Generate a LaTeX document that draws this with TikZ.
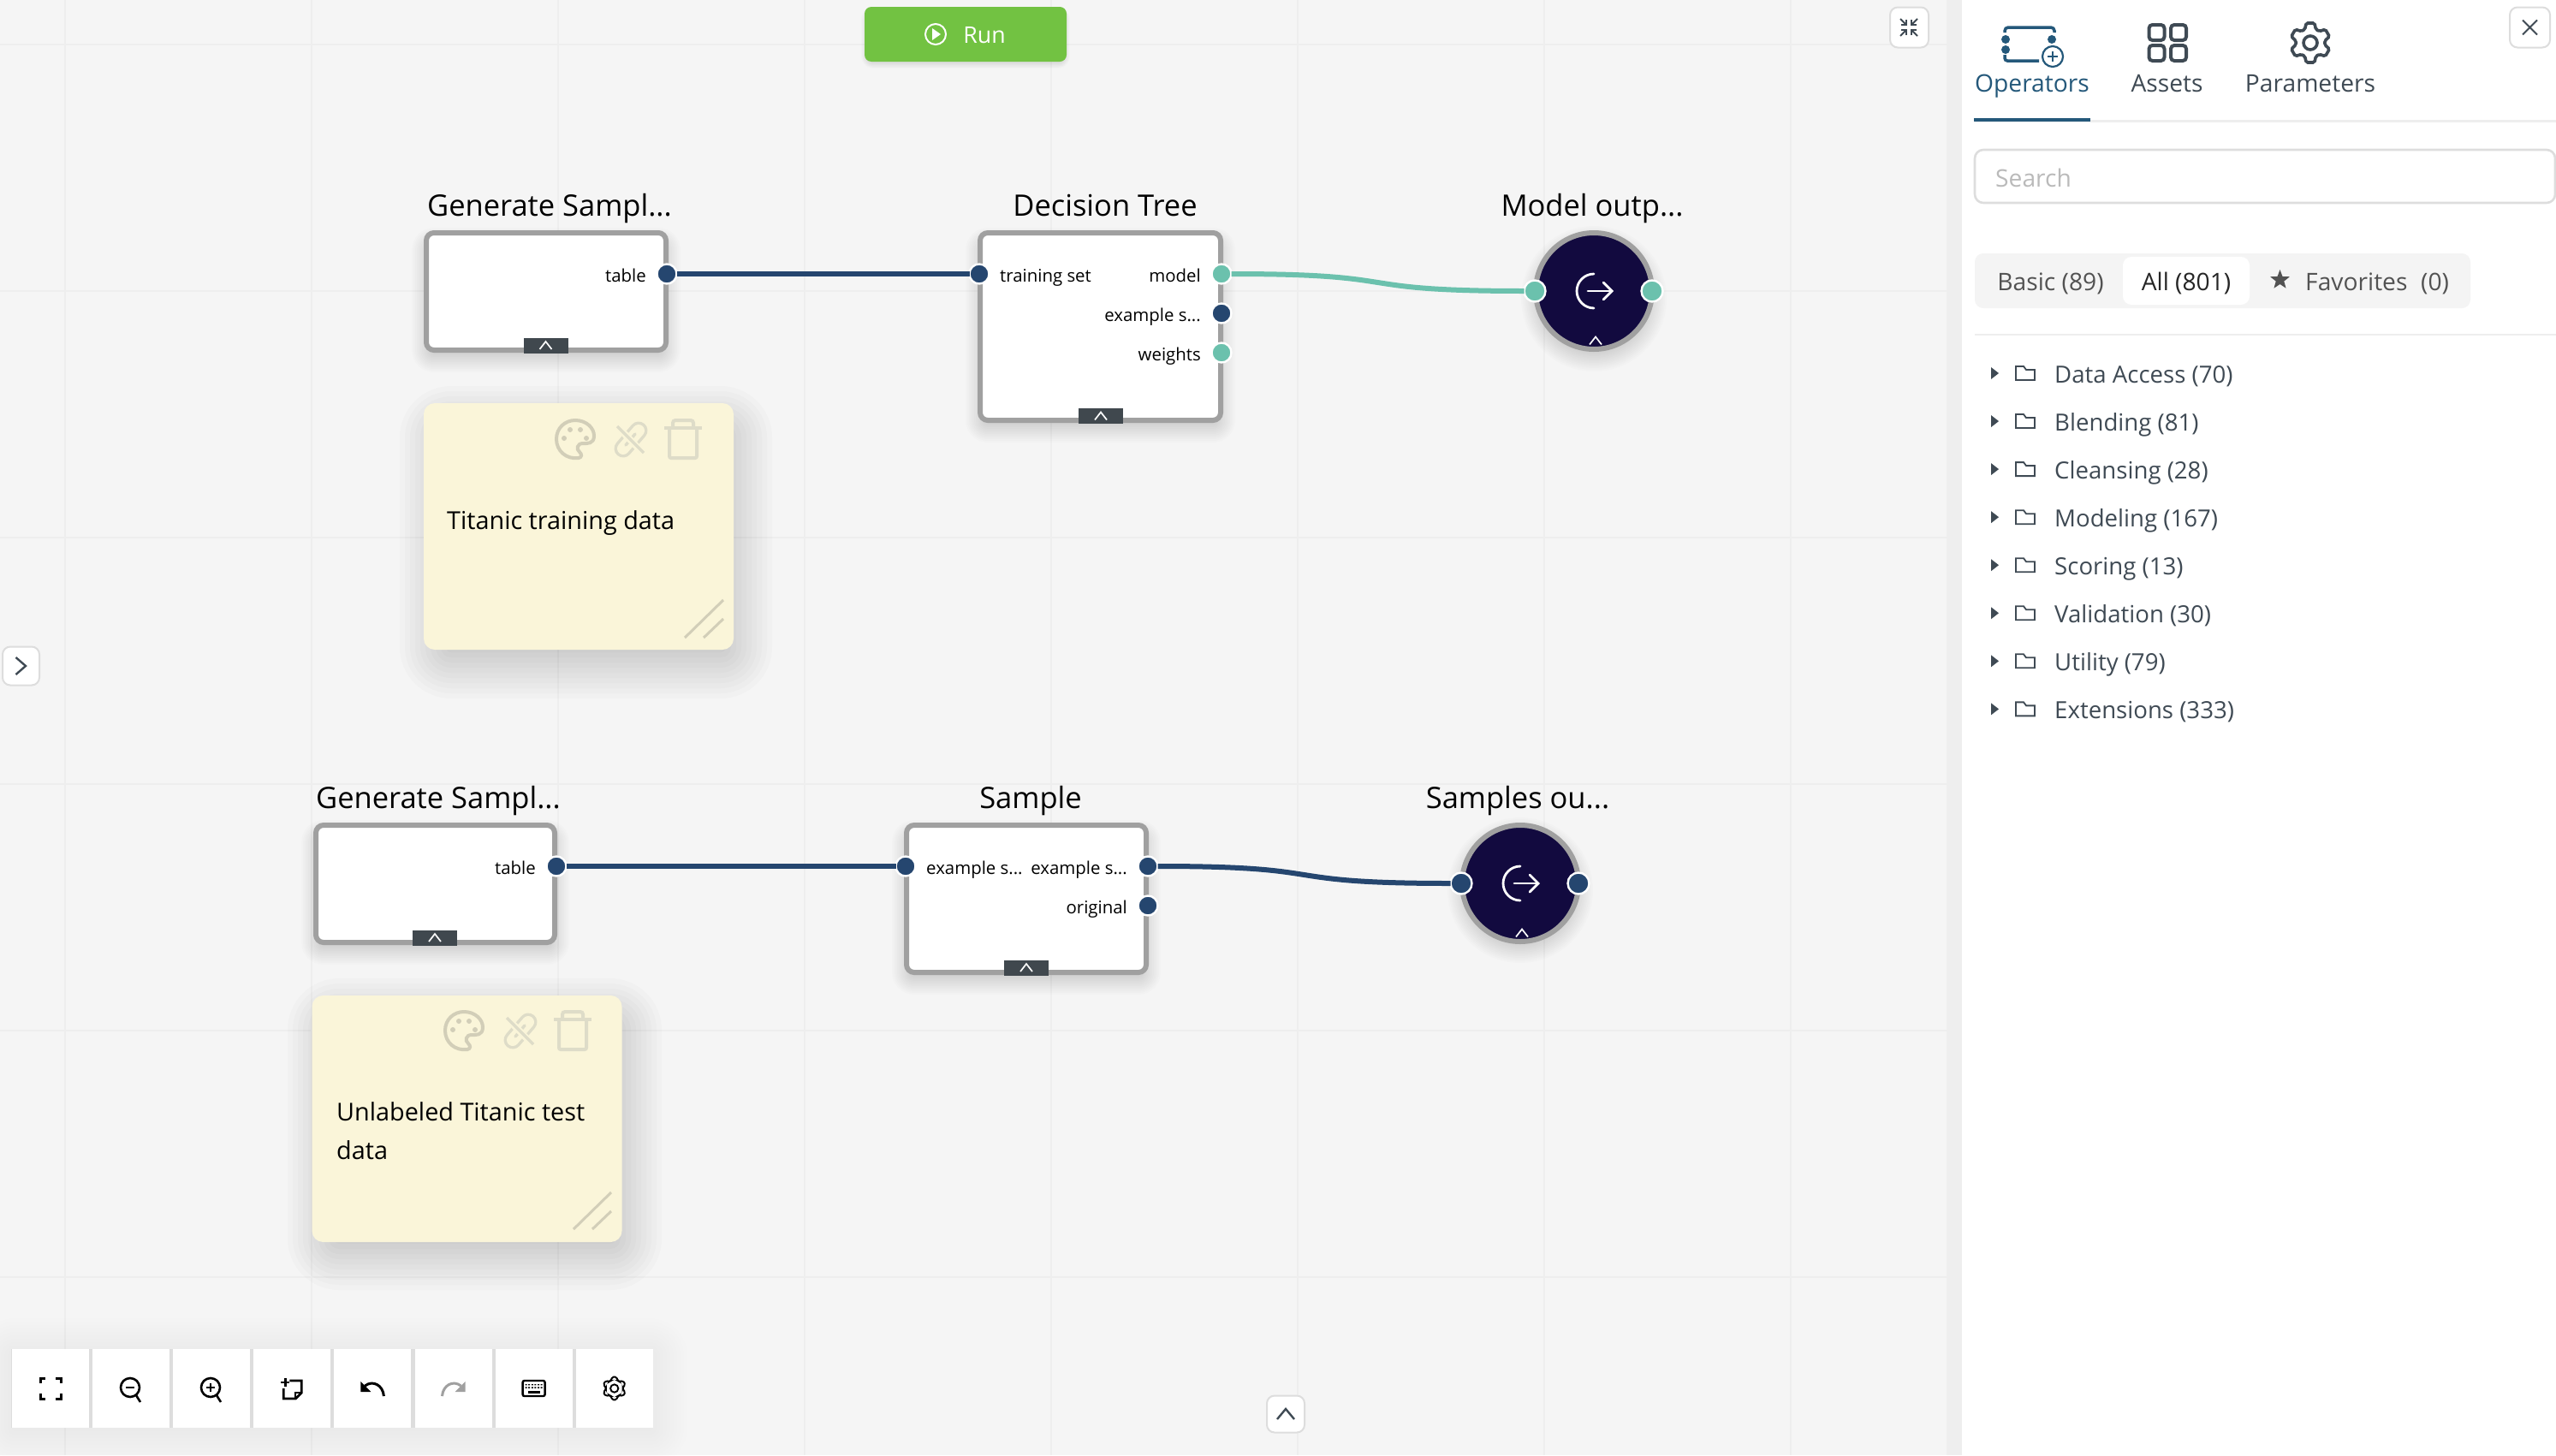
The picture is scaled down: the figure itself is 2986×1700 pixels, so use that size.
\documentclass[tikz,border=0pt]{standalone}
\usepackage{fontspec}
\setmainfont{Open Sans}
\usetikzlibrary{shapes.geometric,positioning,arrows.meta,calc}

\definecolor{canvasbg}{HTML}{F5F5F5}
\definecolor{gridline}{HTML}{EEEEEE}
\definecolor{navyport}{HTML}{25466F}
\definecolor{tealport}{HTML}{6BC1AD}
\definecolor{boxedge}{HTML}{A0A0A0}
\definecolor{tabdark}{HTML}{40484E}
\definecolor{exitfill}{HTML}{120A3F}
\definecolor{notefill}{HTML}{FAF5D9}
\definecolor{noteicon}{HTML}{D2CEB8}
\definecolor{noteiconlt}{HTML}{DEDCC8}
\definecolor{slate}{HTML}{3F4A54}
\definecolor{activeblue}{HTML}{24587A}
\definecolor{paneledge}{HTML}{EEEEEE}
\definecolor{softedge}{HTML}{DDDDDD}
\definecolor{rungreen}{HTML}{72C242}

\newcommand{\softshade}[8]{%
  \foreach \g in {0,...,11}{
    \pgfmathsetmacro\ee{#5+(#6-#5)*\g/11}
    \pgfmathsetmacro\rr{max(0.1,#8+\ee)}
    \fill[black,opacity=#7,rounded corners=\rr pt] (#1-\ee,#2-\ee) rectangle (#3+\ee,#4+\ee);
  }}

\tikzset{
  caretmark/.pic={\draw[white,line width=1.7pt] (-7,4.5) -- (0,-4.5) -- (7,4.5);},
  exiticon/.pic={
    \draw[white,line width=2.8pt,line cap=round] (0,-20) arc[start angle=270,end angle=90,radius=20];
    \draw[white,line width=2.8pt,line cap=round] (-7,0) -- (20,0);
    \draw[white,line width=2.8pt,line cap=round] (11,-10) -- (21,0) -- (11,10);},
  paletteicon/.pic={
    \draw[noteicon,line width=4pt] (4,22) .. controls (-10,24) and (-22,14) .. (-22,0)
      .. controls (-22,-13) and (-12,-22) .. (0,-22) .. controls (13,-22) and (22,-13) .. (22,-4)
      .. controls (22,6) and (14,5) .. (9,5) .. controls (2,5) and (1,12) .. (5,15)
      .. controls (8,18) and (8,21) .. (4,22) -- cycle;
    \foreach \dx/\dy in {-13/-1,-6/-11,6/-11,13/-1}{\fill[noteicon] (\dx,\dy) circle (3);}},
  clipicon/.pic={
    \draw[noteiconlt,line width=21pt,line cap=round] (-8,11) -- (10,-10);
    \draw[notefill,line width=14pt,line cap=round] (-8,11) -- (10,-10);
    \draw[noteiconlt,line width=3.5pt,line cap=round] (-5,7) -- (6,-6);
    \draw[notefill,line width=8pt] (-18,-18) -- (18,19);
    \draw[noteiconlt,line width=3.5pt] (-15,-15) -- (16,16);},
  trashicon/.pic={
    \draw[noteiconlt,line width=4pt,rounded corners=2pt] (-16,-13) -- (-16,22) -- (16,22) -- (16,-13);
    \draw[noteiconlt,line width=4pt] (-22,-13) -- (22,-13);
    \draw[noteiconlt,line width=4pt,rounded corners=3pt] (-12,-13) -- (-12,-22) -- (12,-22) -- (12,-13);},
  gearicon/.pic={
    \draw[pic actions,rounded corners=1.8pt] (8:17)
      \foreach \a in {30,90,...,330}{ -- (\a-22:17) -- (\a-12:23.5) -- (\a+12:23.5) -- (\a+22:17) } -- cycle;
    \draw[pic actions] (0,0) circle (8);},
  foldericon/.pic={
    \draw[slate,line width=1.8pt] (-11,8) -- (-11,-8) -- (-2,-8) -- (1,-4) -- (11,-4) -- (11,8) -- cycle;},
  fiticon/.pic={
    \foreach \sx/\sy in {-1/-1,1/-1,-1/1,1/1}{
      \draw[black,line width=3pt] (\sx*12,\sy*6) -- (\sx*12,\sy*12) -- (\sx*6,\sy*12);}},
  lensicon/.pic={
    \draw[black,line width=2.6pt] (0,0) circle (11);
    \draw[black,line width=2.6pt] (7,9) -- (12,17);
    \draw[black,line width=2.8pt] (-5,0) -- (5,0);},
  noteaddicon/.pic={
    \draw[black,line width=2.8pt] (-3,-9) -- (11,-9) -- (11,5) -- (4,12) -- (-10,12) -- (-10,0);
    \draw[black,line width=2pt] (11,5) -- (4,5) -- (4,12);
    \draw[black,line width=2.8pt] (-13,-7) -- (-3,-7) (-8,-12) -- (-8,-2);},
  undoicon/.pic={
    \draw[pic actions,line width=3pt] (13,9) .. controls (12,-4) and (0,-10) .. (-9,-3);
    \fill[pic actions] (-14,-8) -- (-14,4) -- (-2,4) -- cycle;},
  keysicon/.pic={
    \draw[black,line width=2.4pt,rounded corners=2pt] (-13,-9) rectangle (13,9);
    \foreach \kx in {-9,-5.4,...,9.1}{\fill[black] (\kx-1,-5) rectangle (\kx+1,-3.6) (\kx-1,-1.6) rectangle (\kx+1,-.2);}
    \fill[black] (-7,3) rectangle (7,5.5);},
}

\begin{document}
\begin{tikzpicture}[x=1pt,y=-1pt,
    opbox/.style={rectangle, draw=boxedge, fill=white, line width=6pt, rounded corners=9pt, inner sep=0pt, outer sep=0pt},
    tabmark/.style={rectangle, fill=tabdark, minimum width=52pt, minimum height=18pt, inner sep=0pt},
    exitnode/.style={circle, draw=boxedge, fill=exitfill, line width=6pt, minimum size=136pt, inner sep=0pt, outer sep=0pt},
    portnavy/.style={circle, draw=white, fill=navyport, line width=2.4pt, minimum size=23pt, inner sep=0pt, outer sep=0pt},
    portteal/.style={portnavy, fill=tealport},
    bigport/.style={minimum size=25pt},
    portlabel/.style={inner sep=0pt, text height=21.5pt, text depth=2.5pt, font=\fontsize{20.4}{24}\selectfont},
    heading/.style={anchor=base, inner sep=0pt, font=\fontsize{34.5}{40}\selectfont},
    notecard/.style={rectangle, fill=notefill, rounded corners=13pt, minimum width=362pt, minimum height=288pt, inner sep=0pt},
    notetext/.style={anchor=base west, inner sep=0pt, font=\fontsize{28.8}{45}\selectfont},
    navylink/.style={draw=navyport, line width=6pt},
    teallink/.style={draw=tealport, line width=6pt},
    sketchlink/.style={out=0, in=180, looseness=1.6},
    iconbtn/.style={rectangle, draw=softedge, fill=white, line width=2pt, rounded corners=9pt, minimum width=45pt, minimum height=47pt, inner sep=0pt},
    toolcell/.style={rectangle, fill=white, minimum width=90pt, minimum height=92pt, inner sep=0pt},
    uilabel/.style={anchor=base, inner sep=0pt, text=slate, font=\fontsize{28.2}{34}\selectfont},
    treelabel/.style={uilabel, anchor=base west, font=\fontsize{27.6}{34}\selectfont}]

    \useasboundingbox (0,0) rectangle (2986,1700);
    \fill[canvasbg] (0,0) rectangle (2274,1700);
    \foreach \gx in {76,364,652,940,1228,1516,1804,2092}{\draw[gridline,line width=2pt] (\gx,0) -- (\gx,1700);}
    \foreach \gy in {52,340,628,916,1204,1492}{\draw[gridline,line width=2pt] (0,\gy) -- (2274,\gy);}
    \fill[paneledge] (2274,0) rectangle (2292,1700);
    \fill[white] (2292,0) rectangle (2986,1700);

    % shadows
    \softshade{513}{497}{856}{770}{-20}{46}{0.014}{14}
    \softshade{382}{1189}{727}{1461}{-20}{46}{0.014}{14}
    \softshade{495}{280}{781}{421}{-8}{14}{0.011}{12}
    \softshade{1142}{280}{1429}{503}{-8}{14}{0.011}{12}
    \softshade{366}{972}{651}{1113}{-8}{14}{0.011}{12}
    \softshade{1056}{972}{1342}{1148}{-8}{14}{0.011}{12}
    \softshade{1791}{278}{1933}{420}{-8}{14}{0.011}{71}
    \softshade{1705}{969}{1847}{1111}{-8}{14}{0.011}{71}
    \softshade{13}{1580}{763}{1672}{-4}{40}{0.005}{4}
    \softshade{1010}{12}{1246}{76}{-2}{4}{0.008}{10}

    % top row
    \node[opbox, minimum width=280pt, minimum height=137pt] (genA) at (638,340.5) {};
    \node[heading] (genAtitle) at (642,252) {Generate Sampl...};
    \node[tabmark] (genAtab) at (637.5,403.5) {};
    \pic at (genAtab) {caretmark};
    \node[portnavy] (genAtable) at (779,320) {};
    \node[portlabel, left=12.5pt of genAtable] (genAtablelbl) {table};

    \node[opbox, minimum width=281pt, minimum height=219pt] (tree) at (1285.5,381.5) {};
    \node[heading] (treetitle) at (1291,252) {Decision Tree};
    \node[tabmark] (treetab) at (1286,486) {};
    \pic at (treetab) {caretmark};
    \node[portnavy] (treeset) at (1144,320) {};
    \node[portteal] (treemodel) at (1427,320) {};
    \node[portnavy] (treeexample) at (1427,366) {};
    \node[portteal] (treeweights) at (1427,412) {};
    \node[portlabel, right=12.5pt of treeset] (treesetlbl) {training set};
    \node[portlabel, left=12.5pt of treemodel] (treemodellbl) {model};
    \node[portlabel, left=12.5pt of treeexample] (treeexamplelbl) {example s...};
    \node[portlabel, left=12.5pt of treeweights] (treeweightslbl) {weights};

    \node[exitnode] (modelout) at (1862,340) {};
    \node[heading] (modelouttitle) at (1860,252) {Model outp...};
    \pic at (modelout) {exiticon};
    \pic at (1864,398) {caretmark};
    \node[portteal, bigport] (modeloutin) at (1793,340) {};
    \node[portteal, bigport] (modeloutend) at (1930,340) {};

    \draw[navylink] (genAtable.east) -- (treeset.west);
    \draw[teallink] (treemodel.east) to[sketchlink] (modeloutin.west);

    \node[notecard] (noteA) at (676,615) {};
    \node[notetext] (noteAtext) at (522,618.5) {Titanic training data};
    \pic at (672,513) {paletteicon};
    \pic at (736,513) {clipicon};
    \pic at (798,513) {trashicon};
    \draw[noteicon,line width=3pt] (800,745) -- (845,701) (822,745) -- (845,723);

    % bottom row
    \node[opbox, minimum width=279pt, minimum height=137pt] (genB) at (508.5,1032.5) {};
    \node[heading] (genBtitle) at (512,944) {Generate Sampl...};
    \node[tabmark] (genBtab) at (508,1095.5) {};
    \pic at (genBtab) {caretmark};
    \node[portnavy] (genBtable) at (650,1012) {};
    \node[portlabel, left=12.5pt of genBtable] (genBtablelbl) {table};

    \node[opbox, minimum width=280pt, minimum height=172pt] (sample) at (1199,1050) {};
    \node[heading] (sampletitle) at (1204,944) {Sample};
    \node[tabmark] (sampletab) at (1199,1130.5) {};
    \pic at (sampletab) {caretmark};
    \node[portnavy] (samplein) at (1058,1012) {};
    \node[portnavy] (sampleout) at (1341,1012) {};
    \node[portnavy] (sampleorig) at (1341,1058) {};
    \node[portlabel, right=12.5pt of samplein] (sampleinlbl) {example s...};
    \node[portlabel, left=12.5pt of sampleout] (sampleoutlbl) {example s...};
    \node[portlabel, left=12.5pt of sampleorig] (sampleoriglbl) {original};

    \node[exitnode] (samplesout) at (1776,1032) {};
    \node[heading] (samplesouttitle) at (1773,944) {Samples ou...};
    \pic at (samplesout) {exiticon};
    \pic at (1778,1090) {caretmark};
    \node[portnavy, bigport] (samplesoutin) at (1707,1032) {};
    \node[portnavy, bigport] (samplesoutend) at (1844,1032) {};

    \draw[navylink] (genBtable.east) -- (samplein.west);
    \draw[navylink] (sampleout.east) to[sketchlink] (samplesoutin.west);

    \node[notecard] (noteB) at (545.5,1307) {};
    \node[notetext, align=left] (noteBtext) at (393,1354.5) {Unlabeled Titanic test\\data};
    \pic at (542,1204) {paletteicon};
    \pic at (607,1204) {clipicon};
    \pic at (669,1204) {trashicon};
    \draw[noteicon,line width=3pt] (670,1436) -- (714,1393) (692,1436) -- (714,1415);

    % run and canvas buttons
    \node[rectangle, fill=rungreen, rounded corners=8pt, minimum width=236pt, minimum height=64pt, inner sep=0pt] (runbtn) at (1128,40) {};
    \node[anchor=base, inner sep=0pt, text=white, font=\fontsize{26.7}{32}\selectfont] (runlbl) at (1150,50) {Run};
    \draw[white,line width=2pt] (1093,40) circle (12);
    \fill[white] (1089,33) -- (1099,40) -- (1089,47) -- cycle;

    \node[iconbtn] (shrinkbtn) at (2230.5,32) {};
    \foreach \sx/\sy in {-1/-1,1/-1,-1/1,1/1}{
      \draw[slate,line width=2pt] (2230+\sx*10,32+\sy*10) -- (2230+\sx*3,32+\sy*3);
      \draw[slate,line width=2pt] (2230+\sx*3,32+\sy*9) -- (2230+\sx*3,32+\sy*3) -- (2230+\sx*9,32+\sy*3);}

    \node[iconbtn, minimum width=43pt, minimum height=45pt] (leftbtn) at (24.5,778) {};
    \draw[slate,line width=2.4pt] (18.5,768) -- (30,778) -- (18.5,788);
    \node[iconbtn, minimum width=44pt, minimum height=43pt] (bottombtn) at (1502,1652) {};
    \draw[slate,line width=2.4pt] (1492,1658) -- (1502,1646) -- (1512,1658);

    % toolbar
    \fill[softedge] (13,1576) rectangle (763,1668);
    \foreach \i in {1,...,8}{
      \node[toolcell] (tool\i) at ({59+94.1*(\i-1)},1622) {};}
    \pic at (tool1) {fiticon};
    \pic at (152,1621) {lensicon};
    \pic at (246,1621) {lensicon};
    \draw[black,line width=2.8pt] (246,1616) -- (246,1626);
    \pic at (tool4) {noteaddicon};
    \pic[black] at (tool5) {undoicon};
    \pic[boxedge, xscale=-1] at (tool6) {undoicon};
    \pic at (tool7) {keysicon};
    \pic[draw=black, line width=1.9pt, scale=0.58] at (tool8) {gearicon};

    % side panel
    \node[iconbtn, minimum width=47pt] (closebtn) at (2955.5,32) {};
    \draw[slate,line width=2pt] (2947,23.5) -- (2964,40.5) (2964,23.5) -- (2947,40.5);

    \draw[activeblue,line width=3.5pt,rounded corners=4pt] (2342,38) -- (2342,32) -- (2400,32) -- (2400,38);
    \draw[activeblue,line width=3.5pt,rounded corners=3pt] (2342,64) -- (2342,71) -- (2382,71);
    \fill[activeblue] (2343,46) circle (5) (2343,58) circle (5) (2397,46) circle (5);
    \draw[activeblue,line width=2.2pt] (2398,66) circle (12);
    \draw[activeblue,line width=1.8pt] (2392,66) -- (2404,66) (2398,60) -- (2398,72);
    \foreach \ax/\ay in {2510.5/29,2536/29,2510.5/53,2536/53}{
      \draw[slate,line width=4pt,rounded corners=4pt] (\ax,\ay) rectangle (\ax+18,\ay+18);}
    \pic[draw=slate, line width=3.6pt] at (2699,50) {gearicon};

    \node[uilabel, text=activeblue] (optab) at (2374,107) {Operators};
    \node[uilabel] (assettab) at (2531.5,107) {Assets};
    \node[uilabel] (paramtab) at (2699,107) {Parameters};
    \draw[paneledge,line width=3pt] (2307,141) -- (2986,141);
    \fill[activeblue] (2306,138) rectangle (2442,142);

    \node[rectangle, draw=softedge, fill=white, line width=2.6pt, rounded corners=10pt, minimum width=678pt, minimum height=62pt, inner sep=0pt] (searchbox) at (2646,206) {};
    \node[anchor=base west, inner sep=0pt, text=black!27, font=\fontsize{28.2}{34}\selectfont] (searchlbl) at (2331,218) {Search};

    \node[rectangle, fill=black!4.5, rounded corners=10pt, minimum width=579pt, minimum height=64pt, inner sep=0pt] (tabgroup) at (2596.5,328) {};
    \node[rectangle, fill=white, rounded corners=10pt, minimum width=148pt, minimum height=56pt, inner sep=0pt] (alltab) at (2554,328) {};
    \node[uilabel, text=black!68] (basiclbl) at (2395.5,339.5) {Basic (89)};
    \node[uilabel, text=black!85] (alllbl) at (2554,339.5) {All (801)};
    \node[star, star points=5, star point ratio=2.4, fill=black!68, minimum size=24pt, inner sep=0pt] (favstar) at (2663.5,327) {};
    \node[uilabel, anchor=base west, text=black!68] (favlbl) at (2693,339.5) {Favorites};
    \node[uilabel, anchor=base west, text=black!68] (favcount) at (2828,339.5) {(0)};
    \draw[paneledge,line width=2.5pt] (2307,391) -- (2986,391);

    \foreach \lbl [count=\i] in {{Data Access (70)},{Blending (81)},{Cleansing (28)},{Modeling (167)},{Scoring (13)},{Validation (30)},{Utility (79)},{Extensions (333)}}{
      \pgfmathsetmacro\rowy{436+56.05*(\i-1)}
      \fill[slate] (2326,\rowy-7) -- (2335,\rowy) -- (2326,\rowy+7) -- cycle;
      \pic at (2366,\rowy) {foldericon};
      \node[treelabel] (cat\i) at (2400,\rowy+11.5) {\lbl};}
\end{tikzpicture}
\end{document}
